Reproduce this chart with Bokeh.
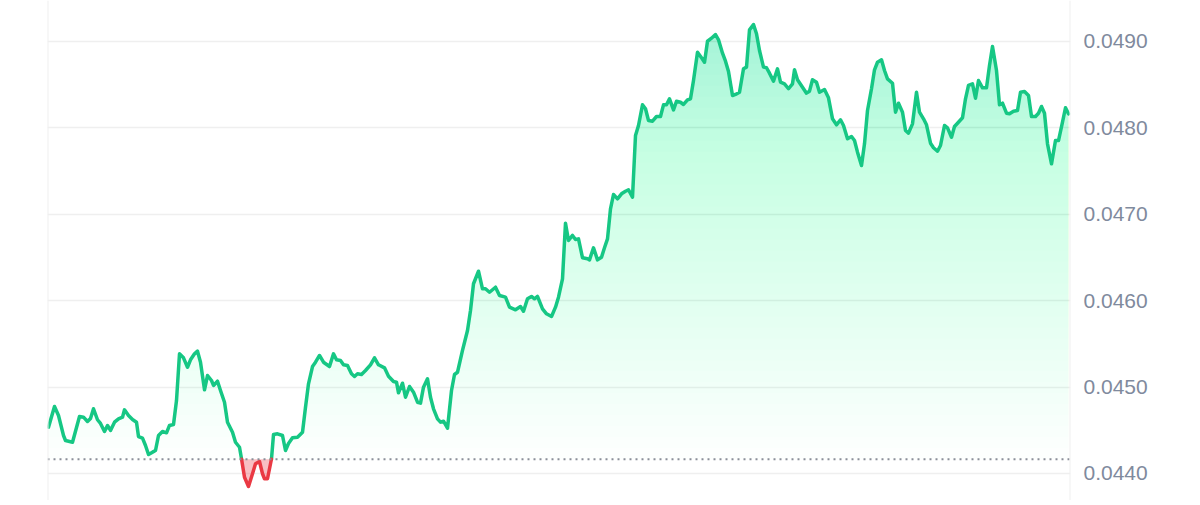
import numpy as np
from bokeh.plotting import figure
from bokeh.models import Span, FixedTicker, PrintfTickFormatter, Range1d
from bokeh.embed import file_html
from bokeh.resources import INLINE

# time steps (arbitrary units along the x axis)
t = [1, 7, 11, 16, 18, 25, 32, 36, 40, 43,
     46, 50, 53, 57, 60, 63, 67, 71, 75, 77,
     81, 85, 89, 91, 95, 98, 101, 105, 108, 111,
     115, 119, 122, 126, 129, 132, 136, 140, 143, 147,
     150, 153, 157, 160, 164, 166, 170, 173, 177, 180,
     185, 188, 192, 194, 197, 201, 205, 208, 212, 215,
     217, 220, 224, 226, 230, 235, 238, 241, 245, 250,
     255, 258, 261, 265, 268, 272, 276, 282, 286, 289,
     293, 296, 300, 304, 307, 310, 314, 318, 323, 327,
     331, 337, 341, 346, 349, 351, 355, 358, 362, 366,
     370, 373, 376, 380, 383, 386, 390, 393, 396, 400,
     404, 407, 410, 415, 420, 423, 426, 431, 435, 438,
     442, 448, 452, 458, 462, 468, 473, 476, 480, 484,
     487, 490, 495, 499, 504, 508, 511, 515, 518, 521,
     525, 528, 531, 535, 540, 542, 546, 550, 554, 557,
     560, 563, 566, 570, 574, 578, 581, 585, 588, 591,
     595, 598, 601, 605, 609, 613, 616, 619, 622, 626,
     629, 633, 636, 640, 643, 646, 650, 654, 657, 660,
     664, 668, 671, 675, 678, 681, 685, 688, 692, 696,
     699, 702, 706, 709, 712, 716, 719, 722, 726, 730,
     733, 737, 741, 745, 747, 750, 755, 759, 762, 765,
     769, 772, 777, 781, 785, 789, 793, 796, 800, 804,
     807, 810, 814, 817, 820, 824, 827, 830, 834, 837,
     840, 845, 848, 851, 855, 858, 861, 865, 869, 872,
     876, 879, 883, 886, 890, 893, 897, 900, 904, 907,
     910, 915, 918, 921, 925, 928, 931, 935, 939, 942,
     945, 949, 952, 955, 959, 962, 966, 970, 973, 977,
     981, 984, 988, 991, 994, 997, 1000, 1004, 1008, 1011,
     1015, 1018, 1021]

price = [0.044536, 0.044775, 0.044671, 0.044440, 0.044382, 0.044362, 0.044660, 0.044652, 0.044602, 0.044637,
         0.044749, 0.044622, 0.044579, 0.044486, 0.044556, 0.044498, 0.044594, 0.044633, 0.044652, 0.044737,
         0.044671, 0.044625, 0.044594, 0.044428, 0.044409, 0.044324, 0.044220, 0.044247, 0.044266, 0.044440,
         0.044486, 0.044471, 0.044556, 0.044567, 0.044845, 0.045385, 0.045339, 0.045230, 0.045316, 0.045385,
         0.045416, 0.045288, 0.044969, 0.045134, 0.045076, 0.045019, 0.045068, 0.044961, 0.044825, 0.044594,
         0.044478, 0.044362, 0.044304, 0.044170, 0.043957, 0.043850, 0.043997, 0.044112, 0.044139, 0.043997,
         0.043939, 0.043939, 0.044170, 0.044451, 0.044459, 0.044440, 0.044266, 0.044347, 0.044413, 0.044420,
         0.044478, 0.044767, 0.045038, 0.045238, 0.045288, 0.045366, 0.045288, 0.045238, 0.045385, 0.045316,
         0.045308, 0.045258, 0.045250, 0.045154, 0.045123, 0.045154, 0.045146, 0.045192, 0.045258, 0.045339,
         0.045258, 0.045223, 0.045126, 0.045065, 0.045057, 0.044934, 0.045045, 0.044883, 0.045007, 0.044941,
         0.044825, 0.044814, 0.044999, 0.045096, 0.044883, 0.044749, 0.044633, 0.044594, 0.044605, 0.044524,
         0.044961, 0.045146, 0.045172, 0.045424, 0.045655, 0.045887, 0.046196, 0.046341, 0.046138, 0.046138,
         0.046098, 0.046156, 0.046060, 0.046041, 0.045925, 0.045895, 0.045933, 0.045878, 0.046022, 0.046049,
         0.046022, 0.046049, 0.045906, 0.045848, 0.045817, 0.045925, 0.046041, 0.046253, 0.046897, 0.046697,
         0.046755, 0.046708, 0.046716, 0.046497, 0.046485, 0.046473, 0.046612, 0.046473, 0.046503, 0.046612,
         0.046716, 0.047064, 0.047229, 0.047179, 0.047237, 0.047267, 0.047284, 0.047198, 0.047912, 0.048028,
         0.048267, 0.048221, 0.048086, 0.048078, 0.048132, 0.048132, 0.048267, 0.048267, 0.048337, 0.048209,
         0.048309, 0.048297, 0.048271, 0.048325, 0.048337, 0.048549, 0.048876, 0.048811, 0.048760, 0.049003,
         0.049038, 0.049081, 0.049020, 0.048865, 0.048772, 0.048653, 0.048375, 0.048387, 0.048413, 0.048684,
         0.048703, 0.049135, 0.049197, 0.049089, 0.048896, 0.048703, 0.048696, 0.048633, 0.048541, 0.048684,
         0.048529, 0.048510, 0.048453, 0.048510, 0.048672, 0.048557, 0.048471, 0.048402, 0.048425, 0.048557,
         0.048529, 0.048413, 0.048444, 0.048348, 0.048105, 0.048036, 0.048094, 0.048028, 0.047874, 0.047900,
         0.047854, 0.047719, 0.047565, 0.047816, 0.048201, 0.048453, 0.048672, 0.048760, 0.048788, 0.048664,
         0.048568, 0.048517, 0.048182, 0.048286, 0.048182, 0.047970, 0.047939, 0.048047, 0.048413, 0.048182,
         0.048105, 0.048036, 0.047823, 0.047770, 0.047730, 0.047796, 0.048028, 0.048001, 0.047892, 0.048016,
         0.048054, 0.048117, 0.048337, 0.048491, 0.048510, 0.048344, 0.048549, 0.048464, 0.048464, 0.048722,
         0.048942, 0.048664, 0.048267, 0.048286, 0.048170, 0.048163, 0.048193, 0.048201, 0.048413, 0.048421,
         0.048375, 0.048132, 0.048132, 0.048170, 0.048248, 0.048170, 0.047816, 0.047584, 0.047854, 0.047854,
         0.048066, 0.048233, 0.048163]

baseline = 0.044165
y_ticks = [0.0440, 0.0450, 0.0460, 0.0470, 0.0480, 0.0490]

GREEN = "#16c784"
RED = "#ea3943"

p = figure(width=1195, height=500, output_backend="svg", toolbar_location=None,
           x_range=Range1d(0, 1023), y_range=Range1d(0.0436875, 0.0494745),
           x_axis_location=None, y_axis_location="right",
           min_border_left=47, min_border_right=125, min_border_top=0, min_border_bottom=0)
p.outline_line_color = None
p.background_fill_color = "white"
p.border_fill_color = "white"
p.xgrid.visible = False
p.ygrid.grid_line_color = "#efefef"
p.ygrid.grid_line_width = 1.5
p.ygrid.ticker = FixedTicker(ticks=y_ticks)

ax = p.yaxis[0]
ax.ticker = FixedTicker(ticks=y_ticks)
ax.formatter = PrintfTickFormatter(format="%.4f")
ax.axis_line_color = None
ax.major_tick_line_color = None
ax.minor_tick_line_color = None
ax.major_label_text_font = "Liberation Sans"
ax.major_label_text_font_size = "21px"
ax.major_label_text_color = "#808a9d"
ax.major_label_standoff = 7

# augment with crossing points at the baseline, split into above/below segments
tx = np.array(t, float)
py = np.array(price, float)
aug_x, aug_y = [tx[0]], [py[0]]
segs = []
cur_x, cur_y = [tx[0]], [py[0]]
above = py[0] >= baseline
for i in range(1, len(tx)):
    a2 = py[i] >= baseline
    if a2 != above:
        f = (baseline - py[i - 1]) / (py[i] - py[i - 1])
        xc = tx[i - 1] + f * (tx[i] - tx[i - 1])
        cur_x.append(xc); cur_y.append(baseline)
        segs.append((above, cur_x, cur_y))
        aug_x.append(xc); aug_y.append(baseline)
        cur_x, cur_y = [xc], [baseline]
        above = a2
    cur_x.append(tx[i]); cur_y.append(py[i])
    aug_x.append(tx[i]); aug_y.append(py[i])
segs.append((above, cur_x, cur_y))
aug_x = np.array(aug_x)
aug_y = np.array(aug_y)

# gradient fill above baseline via stacked translucent layers
N = 40
top = 0.04925
levels = np.linspace(baseline, top, N + 1)[:-1]
alpha_top = 0.31
cum = alpha_top * np.arange(1, N + 1) / N
prev = 0.0
for i, L in enumerate(levels):
    a = (cum[i] - prev) / (1 - prev)
    prev = cum[i]
    p.varea(x=aug_x, y1=np.full(len(aug_x), L), y2=np.maximum(aug_y, L),
            fill_color=GREEN, fill_alpha=a)

# red fill below baseline
p.varea(x=aug_x, y1=np.minimum(aug_y, baseline), y2=np.full(len(aug_x), baseline),
        fill_color=RED, fill_alpha=0.32)

gx = [s[1] for s in segs if s[0]]
gy = [s[2] for s in segs if s[0]]
rx = [s[1] for s in segs if not s[0]]
ry = [s[2] for s in segs if not s[0]]
p.multi_line(xs=gx, ys=gy, line_color=GREEN, line_width=3.5, line_join="round", line_cap="round")
p.multi_line(xs=rx, ys=ry, line_color=RED, line_width=3.5, line_join="round", line_cap="round")

p.add_layout(Span(location=baseline, dimension="width", line_color="#8a8f99",
                  line_dash="2 4", line_width=2))
p.add_layout(Span(location=0, dimension="height", line_color="#efefef", line_width=2))
p.add_layout(Span(location=1023, dimension="height", line_color="#efefef", line_width=2))

open("out.html", "w").write(file_html(p, INLINE))
